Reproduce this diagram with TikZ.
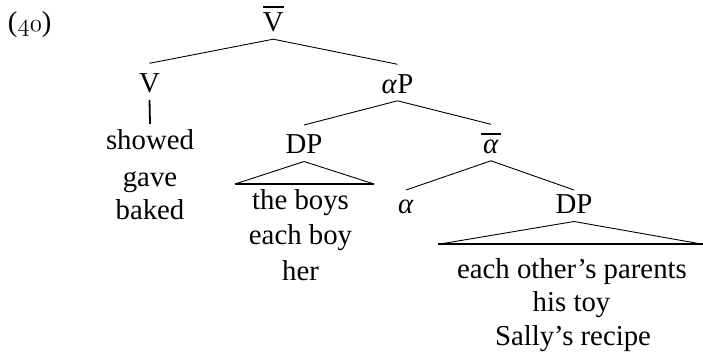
\documentclass[tikz,border=0pt]{standalone}
\usepackage{fontspec}
\setmainfont{Liberation Serif}
\usetikzlibrary{calc}
\newcommand\osnums[1]{{\usefont{OML}{cmm}{m}{it}#1}}
\begin{document}
\begin{tikzpicture}[x=1pt,y=-1pt,
  every node/.style={font=\fontsize{28.8}{35}\selectfont, inner sep=0pt, outer sep=0pt},
  cat/.style={text height=29pt, text depth=7.5pt, anchor=base},
  low/.style={text height=24pt, text depth=7.5pt, anchor=base},
  leaf/.style={text height=26pt, text depth=0pt, anchor=base},
  branch/.style={line width=0.9pt},
  stem/.style={line width=1.8pt},
  roof/.style={line width=0.9pt, line join=miter},
  floor/.style={line width=2.2pt},
  barline/.style={line width=2pt}]
\useasboundingbox (0,0) rectangle (703,352);

\node[anchor=base west] (ex) at (8,32) {(\osnums{40})};

% categories
\node[cat] (vbar) at (273.3,31.7) {V};
\draw[barline] ($(vbar.base)+(-10.5,-24.4)$) -- ++(21,0);
\node[cat] (v) at (149.5,92.3) {V};
\node[cat] (ap) at (397.5,93.3) {\textit{α}P};
\node[cat] (dp1) at (304,154) {DP};
\node[cat] (ab) at (491,153.3) {\textit{α}};
\draw[barline] ($(ab.base)+(-10,-19)$) -- ++(20,0);
\node[low] (a) at (406,214) {\textit{α}};
\node[low] (dp2) at (574,214) {DP};

% branches
\draw[branch] (vbar.south) -- (v.north);
\draw[branch] (vbar.south) -- (ap.north);
\draw[branch] (ap.south) -- (dp1.north);
\draw[branch] (ap.south) -- (ab.north);
\draw[branch] (ab.south) -- (a.north);
\draw[branch] (ab.south) -- (dp2.north);

% V leaves
\node[leaf] (showed) at (150,150) {showed};
\node[leaf] (gave) at (150,186.5) {gave};
\node[leaf] (baked) at (150,220) {baked};
\draw[stem] (v.south) -- (showed.north);

% first DP triangle
\coordinate (t1l) at (235,184);
\coordinate (t1r) at (374,184);
\draw[roof] (t1l) -- (dp1.south) -- (t1r);
\draw[floor] (t1l) -- (t1r);
\node[leaf] (boys) at (300.5,210) {the boys};
\node[leaf] (eachboy) at (300.5,245) {each boy};
\node[leaf] (her) at (300.5,280) {her};

% second DP triangle
\coordinate (t2l) at (438.3,244.3);
\coordinate (t2r) at (703,244.3);
\draw[roof] (t2l) -- (dp2.south) -- (t2r);
\draw[floor] (t2l) -- (t2r);
\node[leaf] (parents) at (572,278.3) {each other’s parents};
\node[leaf] (toy) at (571.5,311.7) {his toy};
\node[leaf] (recipe) at (573,345) {Sally’s recipe};
\end{tikzpicture}
\end{document}
